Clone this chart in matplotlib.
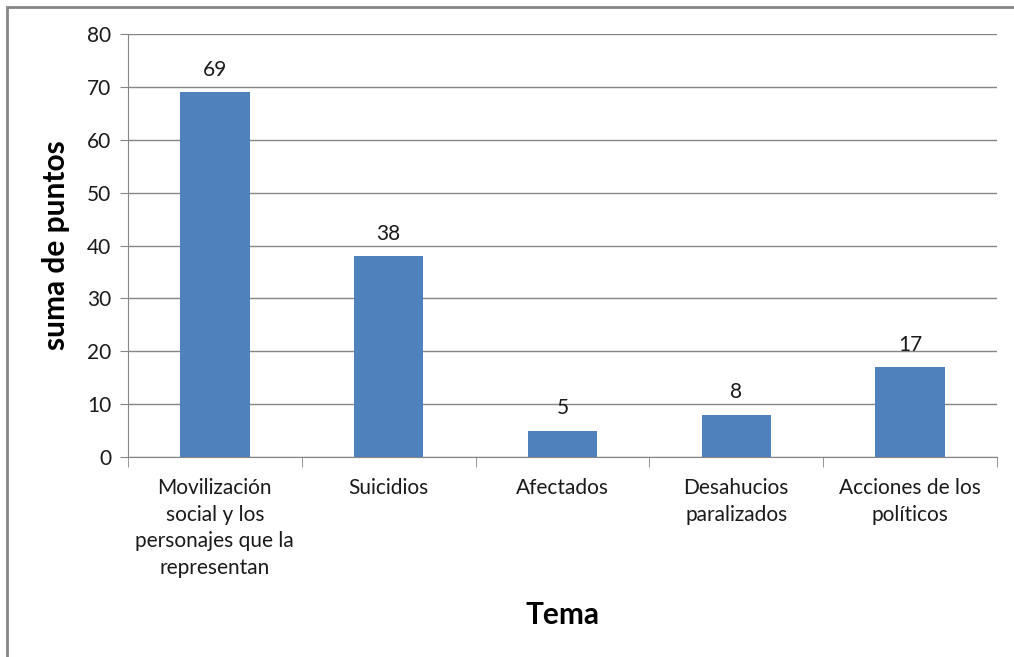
import matplotlib.pyplot as plt
from matplotlib.patches import Rectangle

temas = ["Movilización\nsocial y los\npersonajes que la\nrepresentan",
         "Suicidios", "Afectados", "Desahucios\nparalizados",
         "Acciones de los\npolíticos"]
puntos = [69, 38, 5, 8, 17]
yticks = [0, 10, 20, 30, 40, 50, 60, 70, 80]

plt.rcParams['font.family'] = ['Lato', 'DejaVu Sans']

fig = plt.figure(figsize=(10.14, 6.57), dpi=100)
ax = fig.add_axes([0.1262, 0.3044, 0.8570, 0.6438])

# outer chart border
fig.patches.append(Rectangle((7 / 1014, -0.1), 1.2, 1 - 7 / 657 + 0.1,
                             transform=fig.transFigure, fill=False,
                             edgecolor="#868686", linewidth=2))

x = list(range(len(temas)))
ax.bar(x, puntos, width=0.4, color="#4F81BD", zorder=3)

for xi, v in zip(x, puntos):
    ax.annotate(str(v), (xi, v), xytext=(0, 9), textcoords="offset points",
                ha="center", va="bottom", fontsize=15, color="#1a1a1a")

ax.set_xlim(-0.5, len(temas) - 0.5)
ax.set_ylim(0, 80)
ax.set_yticks(yticks)
ax.tick_params(axis="y", labelsize=15, length=6, color="#868686",
               labelcolor="#1a1a1a", pad=6)

ax.set_xticks(x)
ax.set_xticklabels(temas, fontsize=15, color="#1a1a1a", linespacing=1.42,
                   va="top")
ax.tick_params(axis="x", length=0, pad=15)
ax.set_xticks([i - 0.5 for i in range(len(temas) + 1)], minor=True)
ax.tick_params(axis="x", which="minor", length=7, color="#868686")

ax.grid(axis="y", color="#868686", linewidth=1, zorder=0)
for s in ["top", "right"]:
    ax.spines[s].set_visible(False)
ax.spines["left"].set_color("#868686")
ax.spines["bottom"].set_color("#868686")

ax.set_ylabel("suma de puntos", fontsize=21.5, fontweight="bold", labelpad=12)
fig.text(0.5548, 1 - 615 / 657, "Tema", fontsize=21.5, fontweight="bold",
         ha="center", va="center")

fig.savefig("out.png", dpi=100)
